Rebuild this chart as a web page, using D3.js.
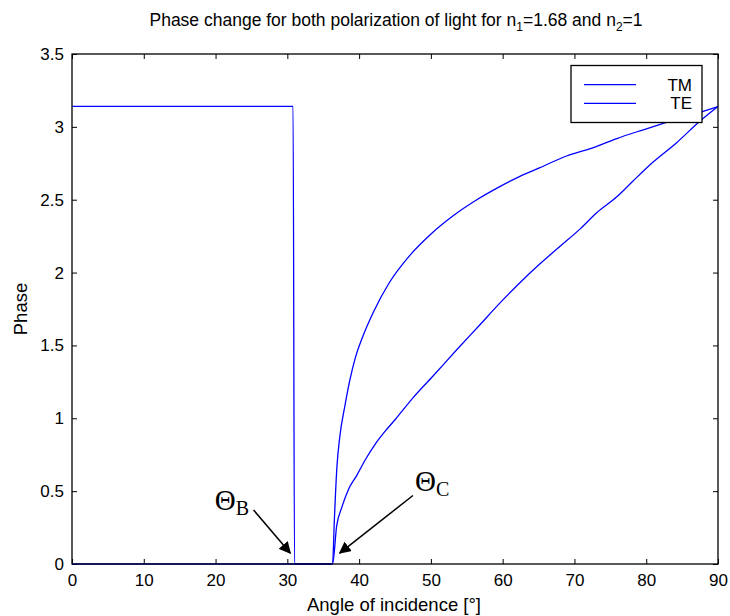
<!DOCTYPE html>
<html>
<head>
<meta charset="utf-8">
<script src="https://cdn.jsdelivr.net/npm/d3@7"></script>
<style>
  html, body { margin: 0; padding: 0; background: #fff; }
  svg { display: block; }
  text { font-family: "Liberation Sans", Arial, Helvetica, sans-serif; fill: #000; }
</style>
</head>
<body>
<svg id="chart" width="730" height="616"></svg>
<script>
// Phase of the reflected wave (radians) versus angle of incidence (degrees)
const tmAngle = [0, 30.8, 31.0, 36.3, 36.55, 36.9, 37.3, 38.0, 38.7, 39.5, 40.5, 42.0, 44.2, 47.1, 49.9, 53.1, 56.4, 59.6, 62.4, 65.2, 68.9, 72.2, 75.9, 79.6, 82.8, 87.5, 90];
const tmPhase = [3.14, 3.14, 0, 0, 0.30, 0.66, 0.87, 1.08, 1.26, 1.42, 1.56, 1.73, 1.93, 2.12, 2.26, 2.39, 2.50, 2.59, 2.66, 2.72, 2.80, 2.85, 2.92, 2.98, 3.03, 3.10, 3.14];

const teAngle = [0, 36.3, 36.87, 37.6, 38.5, 39.7, 40.8, 42.2, 43.6, 45.0, 47.5, 50.3, 53.6, 56.8, 59.6, 62.4, 65.2, 68.0, 70.8, 73.1, 75.9, 78.2, 81.0, 84.2, 87.5, 90];
const tePhase = [0, 0, 0.26, 0.39, 0.51, 0.61, 0.71, 0.82, 0.91, 0.99, 1.14, 1.29, 1.47, 1.64, 1.79, 1.93, 2.06, 2.18, 2.30, 2.41, 2.52, 2.63, 2.76, 2.89, 3.04, 3.14];

const xTicks = [0, 10, 20, 30, 40, 50, 60, 70, 80, 90];
const yTicks = [0, 0.5, 1, 1.5, 2, 2.5, 3, 3.5];
const seriesNames = ["TM", "TE"];

// Brewster (B) and critical (C) angle markers, in data units
const arrows = [
  { x0: 25.3, y0: 0.37, x1: 30.4, y1: 0.075 },
  { x0: 47.5, y0: 0.47, x1: 37.3, y1: 0.075 }
];
const angleLabels = [
  { sub: "B", x: 19.9, y: 0.37 },
  { sub: "C", x: 47.8, y: 0.5 }
];

const svg = d3.select("#chart");
const mLeft = 72, mRight = 718, mTop = 54, mBottom = 564;
const blue = "#0000ff";

const x = d3.scaleLinear().domain([0, 90]).range([mLeft, mRight]);
const y = d3.scaleLinear().domain([0, 3.5]).range([mBottom, mTop]);

svg.append("defs").append("marker")
  .attr("id", "arrowhead")
  .attr("viewBox", "0 0 10 10")
  .attr("refX", 9).attr("refY", 5)
  .attr("markerWidth", 12).attr("markerHeight", 12)
  .attr("markerUnits", "userSpaceOnUse")
  .attr("orient", "auto")
  .append("path").attr("d", "M0,0 L10,5 L0,10 Z").attr("fill", "#000");

// Axes with inward ticks on all four sides
const tickLen = 5;
const axB = d3.axisBottom(x).tickValues(xTicks).tickSize(-tickLen).tickPadding(10).tickFormat(d3.format("d"));
const axT = d3.axisTop(x).tickValues(xTicks).tickSize(-tickLen).tickFormat("");
const axL = d3.axisLeft(y).tickValues(yTicks).tickSize(-tickLen).tickPadding(8).tickFormat(d => String(d));
const axR = d3.axisRight(y).tickValues(yTicks).tickSize(-tickLen).tickFormat("");

function styleAxis(g) {
  g.select(".domain").remove();
  g.selectAll(".tick line").attr("stroke", "#000").attr("stroke-width", 1);
  g.selectAll(".tick text").attr("font-size", 17).attr("fill", "#000")
    .style("font-family", '"Liberation Sans", Arial, sans-serif');
}
svg.append("g").attr("transform", `translate(0,${mBottom})`).call(axB).call(styleAxis);
svg.append("g").attr("transform", `translate(0,${mTop})`).call(axT).call(styleAxis);
svg.append("g").attr("transform", `translate(${mLeft},0)`).call(axL).call(styleAxis);
svg.append("g").attr("transform", `translate(${mRight},0)`).call(axR).call(styleAxis);

// Curves
const line = d3.line().x(d => x(d[0])).y(d => y(d[1])).curve(d3.curveMonotoneX);
const tm = tmAngle.map((a, i) => [a, tmPhase[i]]);
const te = teAngle.map((a, i) => [a, tePhase[i]]);
[tm, te].forEach(data => {
  svg.append("path").datum(data)
    .attr("d", line)
    .attr("fill", "none")
    .attr("stroke", blue)
    .attr("stroke-width", 1.3)
    .attr("stroke-linejoin", "round");
});

// Frame
svg.append("rect")
  .attr("x", mLeft).attr("y", mTop)
  .attr("width", mRight - mLeft).attr("height", mBottom - mTop)
  .attr("fill", "none").attr("stroke", "#000").attr("stroke-width", 1.3);

// Angle markers
arrows.forEach(m => {
  svg.append("line")
    .attr("x1", x(m.x0)).attr("y1", y(m.y0))
    .attr("x2", x(m.x1)).attr("y2", y(m.y1))
    .attr("stroke", "#000").attr("stroke-width", 1.5)
    .attr("marker-end", "url(#arrowhead)");
});
angleLabels.forEach(p => {
  const t = svg.append("text")
    .attr("x", x(p.x)).attr("y", y(p.y))
    .style("font-family", '"Liberation Serif", "Times New Roman", serif')
    .attr("font-size", 29);
  t.append("tspan").text("Θ");
  t.append("tspan").attr("font-size", 20).attr("dy", 5).text(p.sub);
});

// Legend
const lg = svg.append("g");
lg.append("rect")
  .attr("x", 571).attr("y", 65.5).attr("width", 131).attr("height", 57)
  .attr("fill", "#fff").attr("stroke", "#000").attr("stroke-width", 1.3);
seriesNames.forEach((name, i) => {
  const yy = 84.7 + i * 18.6;
  lg.append("line").attr("x1", 584).attr("x2", 636).attr("y1", yy).attr("y2", yy)
    .attr("stroke", blue).attr("stroke-width", 1.3);
  lg.append("text").attr("x", 692).attr("y", yy + 6).attr("text-anchor", "end")
    .attr("font-size", 17).text(name);
});

// Titles
const title = svg.append("text").attr("x", 396).attr("y", 26)
  .attr("text-anchor", "middle").attr("font-size", 17.5);
title.append("tspan").text("Phase change for both polarization of light for n");
title.append("tspan").attr("font-size", 12).attr("dy", 5).text("1");
title.append("tspan").attr("dy", -5).text("=1.68 and n");
title.append("tspan").attr("font-size", 12).attr("dy", 5).text("2");
title.append("tspan").attr("dy", -5).text("=1");

svg.append("text").attr("x", 394).attr("y", 611)
  .attr("text-anchor", "middle").attr("font-size", 18.5)
  .text("Angle of incidence [°]");

svg.append("text")
  .attr("transform", `translate(27,${(mTop + mBottom) / 2}) rotate(-90)`)
  .attr("text-anchor", "middle").attr("font-size", 18.5)
  .text("Phase");
</script>
</body>
</html>
